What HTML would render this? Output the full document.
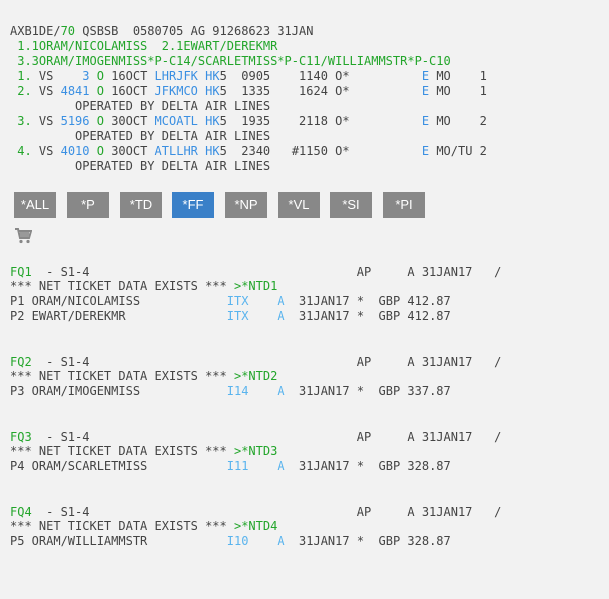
<!DOCTYPE html>
<html><head><style>
body{margin:0;width:609px;height:599px;background:#f2f2f2;overflow:hidden;position:relative}
pre{position:absolute;left:10px;margin:0;font-family:"DejaVu Sans Mono","Liberation Mono",monospace;font-size:12px;color:#444}
.g{color:#22a52a}.b{color:#3a8fe2}.c{color:#5ab4ee}
.btn{position:absolute;top:192px;height:26px;width:42px;background:#888;color:#fff;font-family:"Liberation Sans",sans-serif;font-size:13px;text-align:center;line-height:26px}
</style></head><body>
<pre style="top:24px;line-height:15px">AXB1DE/<span class="g">70</span> QSBSB  0580705 AG 91268623 31JAN
<span class="g"> 1.1ORAM/NICOLAMISS  2.1EWART/DEREKMR</span>
<span class="g"> 3.3ORAM/IMOGENMISS*P-C14/SCARLETMISS*P-C11/WILLIAMMSTR*P-C10</span>
<span class="g"> 1.</span> VS    <span class="b">3</span> <span class="g">O</span> 16OCT <span class="b">LHRJFK HK</span>5  0905    1140 O*          <span class="b">E</span> MO    1
<span class="g"> 2.</span> VS <span class="b">4841</span> <span class="g">O</span> 16OCT <span class="b">JFKMCO HK</span>5  1335    1624 O*          <span class="b">E</span> MO    1
         OPERATED BY DELTA AIR LINES
<span class="g"> 3.</span> VS <span class="b">5196</span> <span class="g">O</span> 30OCT <span class="b">MCOATL HK</span>5  1935    2118 O*          <span class="b">E</span> MO    2
         OPERATED BY DELTA AIR LINES
<span class="g"> 4.</span> VS <span class="b">4010</span> <span class="g">O</span> 30OCT <span class="b">ATLLHR HK</span>5  2340   #1150 O*          <span class="b">E</span> MO/TU 2
         OPERATED BY DELTA AIR LINES</pre>
<div class="btn" style="left:14px">*ALL</div>
<div class="btn" style="left:67px">*P</div>
<div class="btn" style="left:120px">*TD</div>
<div class="btn" style="left:172px;background:#3a80c8">*FF</div>
<div class="btn" style="left:225px">*NP</div>
<div class="btn" style="left:278px">*VL</div>
<div class="btn" style="left:330px">*SI</div>
<div class="btn" style="left:383px">*PI</div>
<svg style="position:absolute;left:14px;top:227px" width="18" height="18" viewBox="0 0 18 18">
<path d="M1 2h3l2 9h9l2-7H5" fill="none" stroke="#888" stroke-width="2"/>
<rect x="6" y="5" width="9" height="5" fill="#999"/>
<circle cx="7" cy="14.5" r="1.6" fill="#888"/><circle cx="14" cy="14.5" r="1.6" fill="#888"/>
</svg>
<pre style="top:264.5px;line-height:14.8px"><span class="g">FQ1</span>  - S1-4                                     AP     A 31JAN17   /
*** NET TICKET DATA EXISTS *** <span class="g">&gt;*NTD1</span>
P1 ORAM/NICOLAMISS            <span class="c">ITX</span>    <span class="c">A</span>  31JAN17 *  GBP 412.87
P2 EWART/DEREKMR              <span class="c">ITX</span>    <span class="c">A</span>  31JAN17 *  GBP 412.87</pre>
<pre style="top:354.5px;line-height:14.8px"><span class="g">FQ2</span>  - S1-4                                     AP     A 31JAN17   /
*** NET TICKET DATA EXISTS *** <span class="g">&gt;*NTD2</span>
P3 ORAM/IMOGENMISS            <span class="c">I14</span>    <span class="c">A</span>  31JAN17 *  GBP 337.87</pre>
<pre style="top:429.5px;line-height:14.8px"><span class="g">FQ3</span>  - S1-4                                     AP     A 31JAN17   /
*** NET TICKET DATA EXISTS *** <span class="g">&gt;*NTD3</span>
P4 ORAM/SCARLETMISS           <span class="c">I11</span>    <span class="c">A</span>  31JAN17 *  GBP 328.87</pre>
<pre style="top:504.5px;line-height:14.8px"><span class="g">FQ4</span>  - S1-4                                     AP     A 31JAN17   /
*** NET TICKET DATA EXISTS *** <span class="g">&gt;*NTD4</span>
P5 ORAM/WILLIAMMSTR           <span class="c">I10</span>    <span class="c">A</span>  31JAN17 *  GBP 328.87</pre>
</body></html>
